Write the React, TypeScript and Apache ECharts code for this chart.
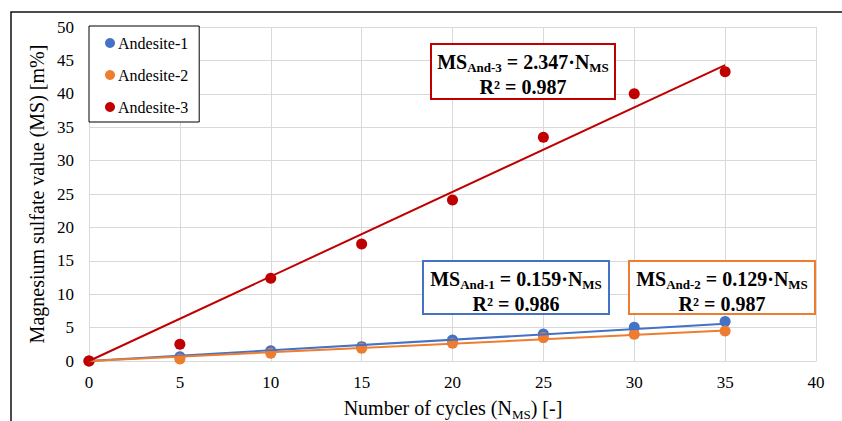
import React, { useEffect, useRef } from "react";
import * as echarts from "echarts";

const cycles = [0, 5, 10, 15, 20, 25, 30, 35];
const andesite1 = [0, 0.65, 1.55, 2.15, 3.15, 4.05, 5.05, 5.9];
const andesite2 = [0, 0.3, 1.15, 1.9, 2.65, 3.5, 4.0, 4.5];
const andesite3 = [0, 2.5, 12.4, 17.5, 24.1, 33.5, 40.0, 43.3];

const trendX = [0, 35];
const trend1 = [0, 5.57];
const trend2 = [0, 4.55];
const trend3 = [0, 44.3];

const seriesNames = ["Andesite-1", "Andesite-2", "Andesite-3"];
const colors = ["#4472C4", "#ED7D31", "#C00000"];

const eqTexts = [
  { sub: "And-1", coef: "0.159", r2: "0.986" },
  { sub: "And-2", coef: "0.129", r2: "0.987" },
  { sub: "And-3", coef: "2.347", r2: "0.987" },
];

const FONT = "'Liberation Serif', 'Times New Roman', Times, serif";

function pairs(xs: number[], ys: number[]) {
  return xs.map((x, i) => [x, ys[i]]);
}

function eqBox(idx: number, x: number, y: number, w: number, h: number) {
  const t = eqTexts[idx];
  return {
    type: "group",
    z: 100,
    children: [
      {
        type: "rect",
        z: 100,
        shape: { x, y, width: w, height: h },
        style: { fill: "#fff", stroke: colors[idx], lineWidth: 2 },
      },
      {
        type: "text",
        z: 101,
        x: x + w / 2,
        y: y + 30,
        style: {
          text: `{a|MS}{s|${t.sub}}{a| = ${t.coef}·N}{s|MS}\n{a|R² = ${t.r2}}`,
          align: "center",
          verticalAlign: "middle",
          fill: "#000",
          fontFamily: FONT,
          rich: {
            a: { fontSize: 20, fontWeight: "bold", fontFamily: FONT, lineHeight: 25, verticalAlign: "middle", fill: "#000" },
            s: { fontSize: 13, fontWeight: "bold", fontFamily: FONT, lineHeight: 13, verticalAlign: "bottom", fill: "#000" },
          },
        },
      },
    ],
  };
}

export default function App() {
  const ref = useRef<HTMLDivElement>(null);
  useEffect(() => {
    const chart = echarts.init(ref.current!, null, { renderer: "svg" });
    const axisCommon = {
      type: "value" as const,
      axisTick: { show: false },
      axisLine: { show: true, lineStyle: { color: "#D9D9D9", width: 1 } },
      splitLine: { show: true, lineStyle: { color: "#D9D9D9", width: 1 } },
    };
    chart.setOption({
      animation: false,
      backgroundColor: "#fff",
      textStyle: { fontFamily: FONT },
      grid: { left: 89, right: 26, top: 27, bottom: 60, containLabel: false },
      xAxis: {
        ...axisCommon,
        min: 0,
        max: 40,
        interval: 5,
        axisLabel: { color: "#000", fontSize: 17, fontFamily: FONT, margin: 13 },
      },
      yAxis: {
        ...axisCommon,
        min: 0,
        max: 50,
        interval: 5,
        axisLabel: { color: "#000", fontSize: 17, fontFamily: FONT, margin: 15 },
      },
      legend: {
        data: seriesNames,
        orient: "vertical",
        left: 89,
        top: 26,
        backgroundColor: "#fff",
        borderColor: "#000",
        borderWidth: 1,
        padding: [9, 11, 7, 16],
        itemWidth: 10,
        itemHeight: 10,
        itemGap: 16,
        icon: "circle",
        z: 50,
        textStyle: { fontSize: 16, color: "#000", fontFamily: FONT, padding: [0, 0, 0, -2] },
      },
      series: [
        ...[andesite1, andesite2, andesite3].map((vals, i) => ({
          name: seriesNames[i],
          type: "scatter",
          symbol: "circle",
          symbolSize: 11,
          data: pairs(cycles, vals),
          itemStyle: { color: colors[i], opacity: 1 },
          z: 2,
        })),
        ...[trend1, trend2, trend3].map((vals, i) => ({
          name: "trend-" + (i + 1),
          type: "line",
          symbol: "none",
          data: pairs(trendX, vals),
          lineStyle: { color: colors[i], width: 2 },
          itemStyle: { color: colors[i] },
          z: 3,
          silent: true,
        })),
      ],
      graphic: [
        {
          type: "polyline",
          shape: { points: [[11, 421], [11, 12], [842, 12]] },
          style: { stroke: "#111", lineWidth: 1.5, fill: "none" },
          silent: true,
        },
        {
          type: "text",
          x: 37,
          y: 194,
          rotation: Math.PI / 2,
          style: {
            text: "Magnesium sulfate value (MS) [m%]",
            fontSize: 20,
            fontFamily: FONT,
            fill: "#000",
            align: "center",
            verticalAlign: "middle",
          },
        },
        {
          type: "text",
          x: 453,
          y: 408,
          style: {
            text: "{a|Number of cycles (N}{s|MS}{a|) [-]}",
            align: "center",
            verticalAlign: "middle",
            fontFamily: FONT,
            fill: "#000",
            rich: {
              a: { fontSize: 20, fontFamily: FONT, lineHeight: 25, verticalAlign: "middle", fill: "#000" },
              s: { fontSize: 13, fontFamily: FONT, lineHeight: 13, verticalAlign: "bottom", fill: "#000" },
            },
          },
        },
        eqBox(2, 431, 44, 184, 55),
        eqBox(0, 423, 261, 186, 53),
        eqBox(1, 629, 261, 186, 53),
      ],
    });
    return () => chart.dispose();
  }, []);
  return (
    <div
      ref={ref}
      style={{ position: "fixed", left: 0, top: 0, width: 842, height: 421, background: "#fff" }}
    />
  );
}
